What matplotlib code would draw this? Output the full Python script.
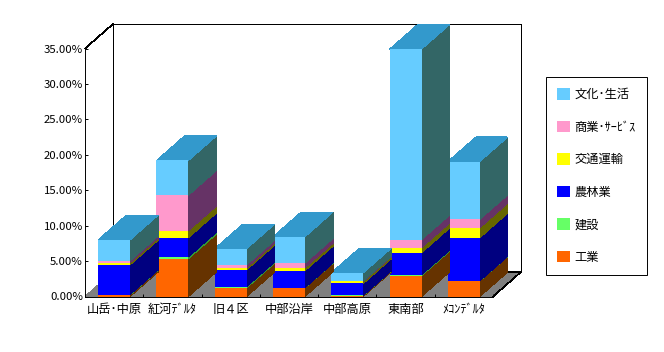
import matplotlib
matplotlib.use('Agg')
import matplotlib.pyplot as plt
from matplotlib.patches import Patch
import numpy as np

plt.rcParams['font.family'] = ['Noto Sans CJK JP', 'DejaVu Sans']

regions = ['山岳･中原', '紅河ﾃﾞﾙﾀ', '旧４区', '中部沿岸', '中部高原', '東南部', 'ﾒｺﾝﾃﾞﾙﾀ']
kogyo = [0.25, 5.33, 1.23, 1.23, 0.14, 2.92, 2.20]
kensetsu = [0.03, 0.27, 0.18, 0.02, 0.02, 0.15, 0.02]
nourin = [4.20, 2.70, 2.36, 2.38, 1.68, 3.11, 6.08]
koutsu = [0.28, 1.00, 0.29, 0.43, 0.28, 0.71, 1.40]
shougyou = [0.29, 5.00, 0.42, 0.66, 0.08, 1.13, 1.20]
bunka = [2.95, 4.90, 2.27, 3.72, 1.15, 26.9, 8.15]

names = ['工業', '建設', '農林業', '交通運輸', '商業･ｻｰﾋﾞｽ', '文化･生活']
series = [kogyo, kensetsu, nourin, koutsu, shougyou, bunka]
front = ['#FF6600', '#66FF66', '#0000FF', '#FFFF00', '#FF99CC', '#66CCFF']
side = ['#663300', '#339933', '#000080', '#666600', '#663366', '#336666']
top_col = '#3399CC'

yticks = [0, 5, 10, 15, 20, 25, 30, 35]
width = 0.55
depth_x = 28 / 58.29   # depth of the fake 3d box
depth_y = 24.5 / 7.07

fig = plt.figure(figsize=(6.64, 3.52), dpi=100)
ax = fig.add_axes([85 / 664, (352 - 296.5) / 352, 436 / 664, 272.5 / 352])
ax.set_xlim(0, 7 + depth_x)
ax.set_ylim(0, 35 + depth_y)

# walls and floor
ax.fill([0, depth_x, 7 + depth_x, 7], [0, depth_y, depth_y, 0], color='#808080', lw=0, aa=False, zorder=1)
for xs, ys in [([0, depth_x], [35, 35 + depth_y]),
               ([depth_x, 7 + depth_x, 7 + depth_x], [35 + depth_y, 35 + depth_y, depth_y]),
               ([depth_x, depth_x], [depth_y, 35 + depth_y]),
               ([depth_x, 7 + depth_x, 7], [depth_y, depth_y, 0])]:
    ax.plot(xs, ys, color='black', lw=0.45, aa=False, zorder=1.5, clip_on=False)

# bars, right one first so the left ones stay in front
values = np.array(series)
bottoms = np.vstack([np.zeros(7), np.cumsum(values, axis=0)])
z = 2
for i in range(6, -1, -1):
    x0 = i + 0.5 - width / 2
    x1 = i + 0.5 + width / 2
    for s in range(6):
        b, t = bottoms[s, i], bottoms[s + 1, i]
        ax.fill([x1, x1 + depth_x, x1 + depth_x, x1], [b, b + depth_y, t + depth_y, t],
                color=side[s], lw=0, aa=False, zorder=z, clip_on=False)
        ax.bar(i + 0.5, t - b, width=width, bottom=b, color=front[s], lw=0, aa=False, zorder=z + 0.1)
    t = bottoms[6, i]
    ax.fill([x0, x1, x1 + depth_x, x0 + depth_x], [t, t, t + depth_y, t + depth_y],
            color=top_col, lw=0, aa=False, zorder=z, clip_on=False)
    z += 1

for sp in ['top', 'right']:
    ax.spines[sp].set_visible(False)
ax.spines['left'].set_bounds(0, 35)
ax.spines['bottom'].set_bounds(0, 7)
ax.spines['left'].set_zorder(20)
ax.spines['bottom'].set_zorder(20)
ax.spines['left'].set_linewidth(0.7)
ax.spines['bottom'].set_linewidth(0.7)

ax.set_yticks(yticks)
ax.set_yticklabels(['%.2f%%' % v for v in yticks], fontsize=8.2)
ax.tick_params(axis='y', direction='in', length=2.5, width=0.7, pad=1.5)
ax.set_xticks(np.arange(7) + 0.5)
ax.set_xticklabels(regions, fontsize=8.8)
ax.tick_params(axis='x', which='major', length=0, pad=5)
ax.set_xticks(np.arange(8), minor=True)
ax.tick_params(axis='x', which='minor', direction='in', length=2.5, width=0.7)
for t in ax.get_xticklines(minor=True) + ax.get_yticklines():
    t.set_zorder(20)

handles = [Patch(facecolor=c, lw=0) for c in front[::-1]]
leg = fig.legend(handles, names[::-1], loc='upper left',
                 bbox_to_anchor=(546 / 664, 1 - 77 / 352), bbox_transform=fig.transFigure,
                 fontsize=8.8, frameon=True, fancybox=False, edgecolor='black', framealpha=1,
                 handlelength=1.07, handleheight=1.07, handletextpad=0.35,
                 labelspacing=1.6, borderpad=0.9, borderaxespad=0)
leg.get_frame().set_linewidth(0.7)

fig.savefig('out.png', dpi=100)
